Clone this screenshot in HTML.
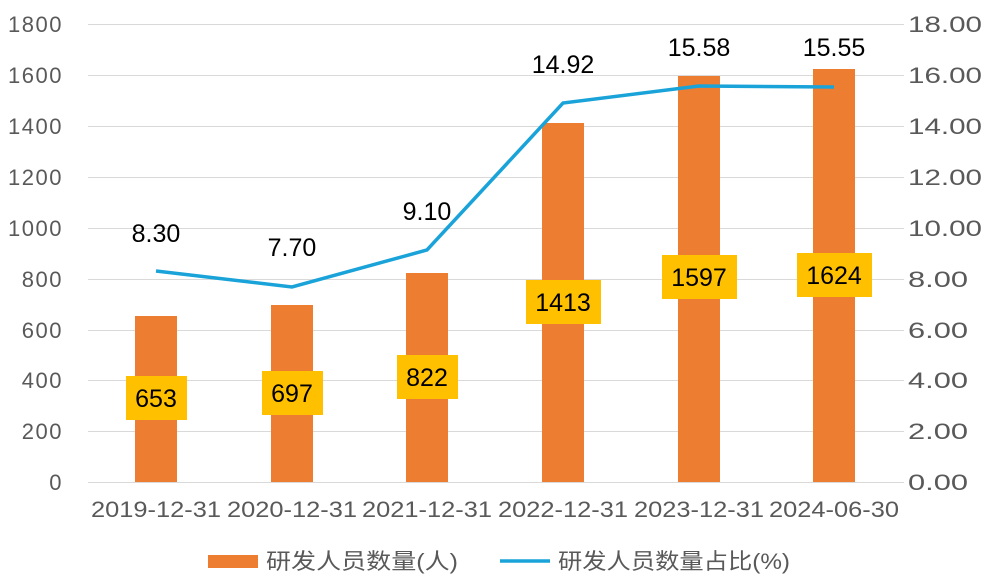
<!DOCTYPE html>
<html><head><meta charset="utf-8"><style>
body{margin:0;background:#fff;}
svg text{font-family:"Liberation Sans","Noto Sans CJK SC",sans-serif;}
</style></head><body>
<svg width="995" height="577" viewBox="0 0 995 577" xmlns="http://www.w3.org/2000/svg">
<rect width="995" height="577" fill="#fff"/>
<g stroke="#D9D9D9" stroke-width="1">
<line x1="88" x2="904" y1="24.5" y2="24.5"/>
<line x1="88" x2="904" y1="75.5" y2="75.5"/>
<line x1="88" x2="904" y1="126.5" y2="126.5"/>
<line x1="88" x2="904" y1="177.5" y2="177.5"/>
<line x1="88" x2="904" y1="228.5" y2="228.5"/>
<line x1="88" x2="904" y1="279.5" y2="279.5"/>
<line x1="88" x2="904" y1="330.5" y2="330.5"/>
<line x1="88" x2="904" y1="380.5" y2="380.5"/>
<line x1="88" x2="904" y1="431.5" y2="431.5"/>
<line x1="88" x2="904" y1="482.5" y2="482.5"/>
</g>
<g font-size="22" fill="#595959" text-anchor="end" letter-spacing="1.5">
<text x="63" y="32">1800</text><text x="63" y="83">1600</text><text x="63" y="134">1400</text>
<text x="63" y="185">1200</text><text x="63" y="236">1000</text><text x="63" y="287">800</text>
<text x="63" y="338">600</text><text x="63" y="388">400</text><text x="63" y="439">200</text>
<text x="63" y="490">0</text>
</g>
<g font-size="22" fill="#595959" text-anchor="start" lengthAdjust="spacingAndGlyphs">
<text x="908" y="32" textLength="74" lengthAdjust="spacingAndGlyphs">18.00</text><text x="908" y="83" textLength="74" lengthAdjust="spacingAndGlyphs">16.00</text><text x="908" y="134" textLength="74" lengthAdjust="spacingAndGlyphs">14.00</text>
<text x="908" y="185" textLength="74" lengthAdjust="spacingAndGlyphs">12.00</text><text x="908" y="236" textLength="74" lengthAdjust="spacingAndGlyphs">10.00</text><text x="908" y="287" textLength="60" lengthAdjust="spacingAndGlyphs">8.00</text>
<text x="908" y="338" textLength="60" lengthAdjust="spacingAndGlyphs">6.00</text><text x="908" y="388" textLength="60" lengthAdjust="spacingAndGlyphs">4.00</text><text x="908" y="439" textLength="60" lengthAdjust="spacingAndGlyphs">2.00</text>
<text x="908" y="490" textLength="60" lengthAdjust="spacingAndGlyphs">0.00</text>
</g>
<g fill="#ED7D31">
<rect x="135" y="316" width="42" height="166"/>
<rect x="271" y="305" width="42" height="177"/>
<rect x="406" y="273" width="42" height="209"/>
<rect x="542" y="123" width="42" height="359"/>
<rect x="678" y="76" width="42" height="406"/>
<rect x="813" y="69" width="42" height="413"/>
</g>
<polyline fill="none" stroke="#1AA3D9" stroke-width="3.5" points="156,271 292,287 427,250 563,103 699,86 834,87"/>
<g fill="#FFC000">
<rect x="126" y="376" width="61" height="44"/>
<rect x="262" y="371" width="61" height="44"/>
<rect x="397" y="355" width="61" height="44"/>
<rect x="526" y="280" width="75" height="44"/>
<rect x="662" y="255" width="75" height="44"/>
<rect x="797" y="253" width="75" height="44"/>
</g>
<g font-size="25" fill="#000" text-anchor="middle">
<text x="156" y="407">653</text><text x="292" y="402">697</text><text x="427" y="386">822</text>
<text x="563" y="311">1413</text><text x="699" y="286">1597</text><text x="834" y="284">1624</text>
<text x="156" y="242">8.30</text><text x="292" y="256">7.70</text><text x="427" y="220">9.10</text>
<text x="563" y="73">14.92</text><text x="699" y="56">15.58</text><text x="834" y="56">15.55</text>
</g>
<g font-size="22" fill="#595959">
<text x="91" y="517" textLength="130" lengthAdjust="spacingAndGlyphs">2019-12-31</text><text x="227" y="517" textLength="130" lengthAdjust="spacingAndGlyphs">2020-12-31</text><text x="362" y="517" textLength="130" lengthAdjust="spacingAndGlyphs">2021-12-31</text>
<text x="498" y="517" textLength="130" lengthAdjust="spacingAndGlyphs">2022-12-31</text><text x="634" y="517" textLength="130" lengthAdjust="spacingAndGlyphs">2023-12-31</text><text x="769" y="517" textLength="130" lengthAdjust="spacingAndGlyphs">2024-06-30</text>
</g>
<rect x="208" y="555" width="50" height="13" fill="#ED7D31"/>
<text x="266" y="569" font-size="22" fill="#595959" textLength="192" lengthAdjust="spacingAndGlyphs">研发人员数量(人)</text>
<line x1="500" x2="550" y1="561" y2="561" stroke="#1AA3D9" stroke-width="3.5"/>
<text x="558" y="569" font-size="22" fill="#595959" textLength="232" lengthAdjust="spacingAndGlyphs">研发人员数量占比(%)</text>
</svg>
</body></html>
